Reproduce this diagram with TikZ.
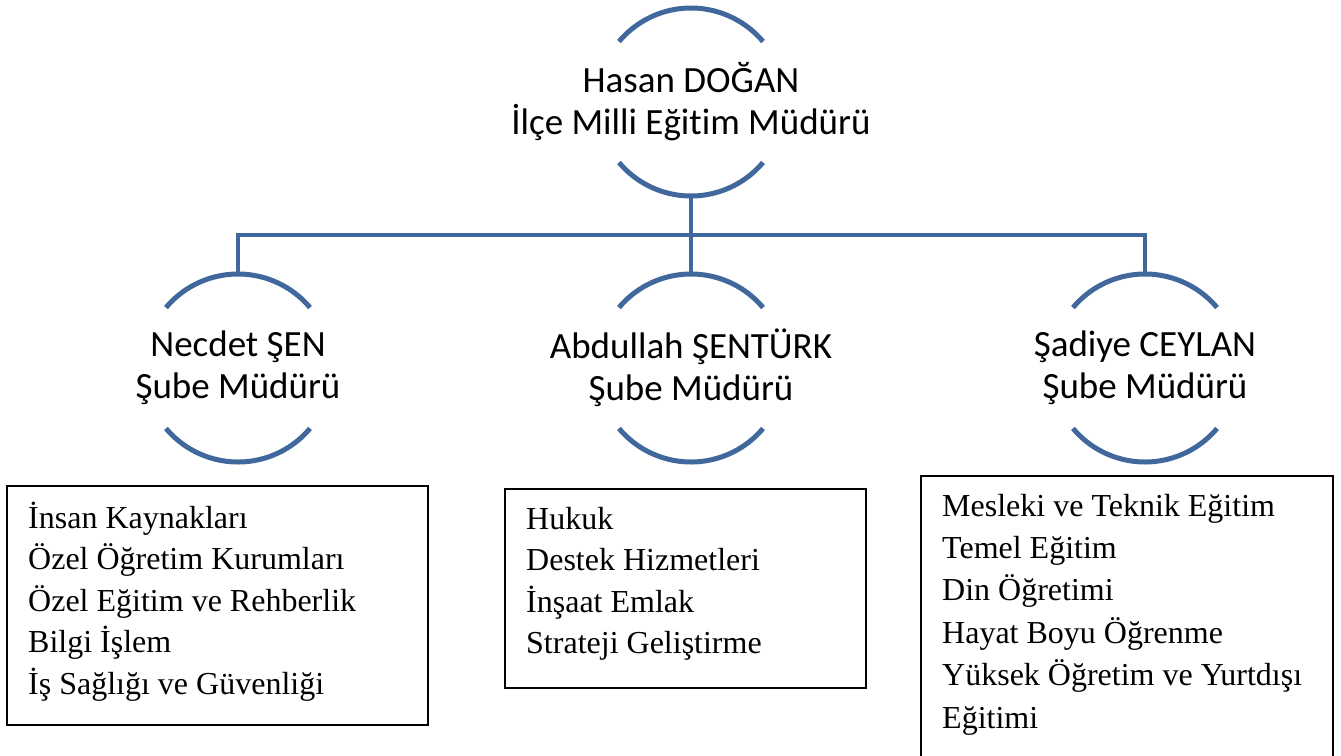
\documentclass[tikz,border=0pt]{standalone}
\usepackage{fontspec}
\newfontfamily\calib[Ligatures=NoCommon]{Carlito}
\newfontfamily\tnr{Liberation Serif}
\definecolor{arcblue}{RGB}{65,104,156}
\tikzset{
  person/.style={font=\calib\fontsize{37}{42}\selectfont, align=center, inner sep=0pt, outer sep=0pt},
  arcline/.style={draw=arcblue, line width=5pt},
  conn/.style={draw=arcblue, line width=4.5pt},
  listbox/.style={draw=black, line width=1.6pt, rectangle, inner sep=0pt, outer sep=0pt, anchor=north west},
  listtext/.style={font=\tnr\fontsize{32}{41.6}\selectfont, align=left, inner sep=0pt, anchor=base west},
}
\begin{document}
\begin{tikzpicture}[x=1pt,y=1pt]
\useasboundingbox (0,0) rectangle (1341,-755);
\fill[white] (0,0) rectangle (1341,-755);
\coordinate (bar) at (0,-235);

\node[person] (c0) at (691,-102) {Hasan DOĞAN\\İlçe Milli Eğitim Müdürü};
\node[person] (c1) at (238,-368) {Necdet ŞEN\\Şube Müdürü};
\node[person] (c2) at (691,-368) {Abdullah ŞENTÜRK\\Şube Müdürü};
\node[person] (c3) at (1145,-368) {Şadiye CEYLAN\\Şube Müdürü};

\foreach \n in {c0,c1,c2,c3}{
  \draw[arcline] ([shift={(140:94)}]\n.center) arc[start angle=140, end angle=40, radius=94];
  \draw[arcline] ([shift={(220:94)}]\n.center) arc[start angle=220, end angle=320, radius=94];
}

\draw[conn] ([yshift=-94pt]c0.center) -- ([yshift=94pt]c2.center);
\draw[conn] ([yshift=94pt]c1.center) -- (c1 |- bar) -- (c3 |- bar) -- ([yshift=94pt]c3.center);

\node[listbox, minimum width=421, minimum height=239] (b1) at (7,-486) {};
\node[listbox, minimum width=361, minimum height=199] (b2) at (505,-489) {};
\begin{scope}
\clip (0,0) rectangle (1341,-755);
\node[listbox, minimum width=412, minimum height=300] (b3) at (921,-476) {};
\end{scope}

% base anchor = baseline of last line
\node[listtext] (t1) at (28,-694.4) {İnsan Kaynakları\\Özel Öğretim Kurumları\\Özel Eğitim ve Rehberlik\\Bilgi İşlem\\İş Sağlığı ve Güvenliği};
\node[listtext] (t2) at (526,-653.8) {Hukuk\\Destek Hizmetleri\\İnşaat Emlak\\Strateji Geliştirme};
\node[listtext, font=\tnr\fontsize{32}{42.4}\selectfont] (t3) at (942,-728) {Mesleki ve Teknik Eğitim\\Temel Eğitim\\Din Öğretimi\\Hayat Boyu Öğrenme\\Yüksek Öğretim ve Yurtdışı\\Eğitimi};
\end{tikzpicture}
\end{document}
